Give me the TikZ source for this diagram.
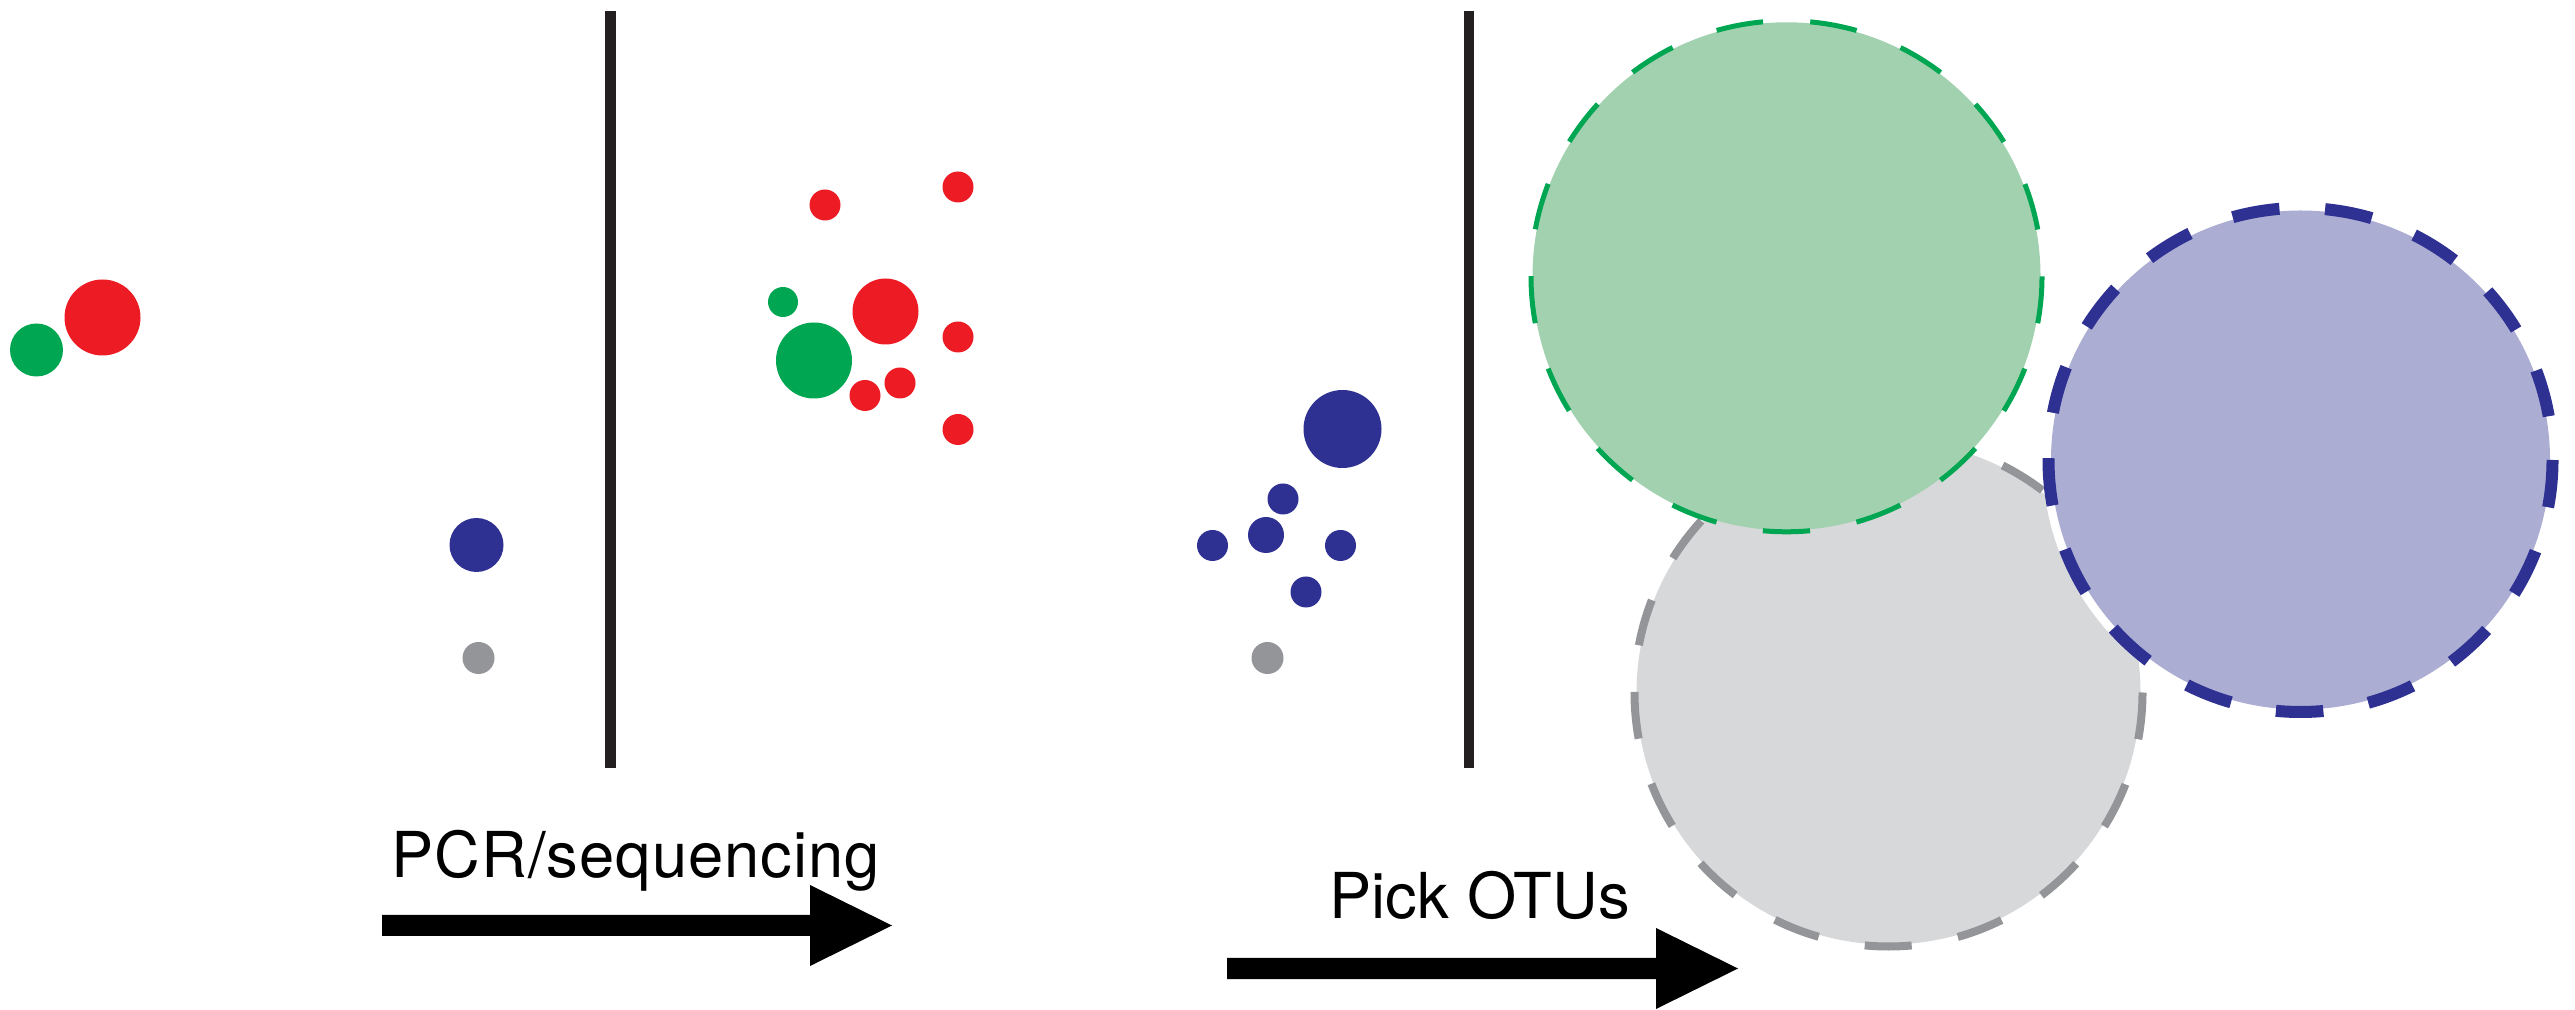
\documentclass[tikz,border=0pt]{standalone}
\usepackage{fontspec}
\setmainfont{TeX Gyre Heros}
\definecolor{cred}{HTML}{ED1C24}
\definecolor{cgreen}{HTML}{00A651}
\definecolor{cblue}{HTML}{2E3192}
\definecolor{cgrey}{HTML}{939598}
\definecolor{cline}{HTML}{231F20}
\definecolor{fgreen}{HTML}{A1D1AF}
\definecolor{fgrey}{HTML}{D7D8DA}
\definecolor{fblue}{HTML}{ABADD3}
\begin{document}
\begin{tikzpicture}[x=0.01cm,y=-0.01cm,
  divider/.style={draw=cline,line width=0.105cm},
  lbl/.style={anchor=base west,inner sep=0pt,font=\fontsize{18pt}{21pt}\selectfont},
  blockarrow/.style={fill=black}]
\useasboundingbox (0,0) rectangle (2575,1010);
% dividers
\coordinate (d1t) at (610.5,11); \coordinate (d1b) at (610.5,768);
\coordinate (d2t) at (1469,11); \coordinate (d2b) at (1469,768);
\draw[divider] (d1t) -- (d1b);
\draw[divider] (d2t) -- (d2b);
% panel 1
\fill[cgreen] (36.5,350) circle[radius=26.5];
\fill[cred] (102.5,317.5) circle[radius=38];
\fill[cblue] (476.5,545) circle[radius=27];
\fill[cgrey] (478.5,658) circle[radius=16];
% panel 2
\fill[cred] (825,205) circle[radius=15.5];
\fill[cred] (958,187) circle[radius=15.5];
\fill[cgreen] (783,302) circle[radius=15];
\fill[cred] (885.5,311.5) circle[radius=33];
\fill[cgreen] (814,360.5) circle[radius=38];
\fill[cred] (958,337) circle[radius=15.5];
\fill[cred] (900,383) circle[radius=15.5];
\fill[cred] (865,395.5) circle[radius=15.5];
\fill[cred] (958,429.5) circle[radius=15.5];
\fill[cblue] (1342.5,429) circle[radius=39];
\fill[cblue] (1283,499) circle[radius=15.5];
\fill[cblue] (1266,535) circle[radius=18];
\fill[cblue] (1212.5,545.5) circle[radius=15.5];
\fill[cblue] (1340.5,545.5) circle[radius=15.5];
\fill[cblue] (1306,592) circle[radius=15.5];
\fill[cgrey] (1267.5,658) circle[radius=16];
% OTU circles
\fill[fgrey] (1888.5,692.5) circle[radius=252];
\draw[cgrey,line width=0.08cm,dash pattern=on 0.47cm off 0.469cm] (1888.5,692.5) circle[radius=254];
\fill[fgreen] (1786.5,276.3) circle[radius=254];
\draw[cgreen,line width=0.05cm,dash pattern=on 0.472cm off 0.472cm] (1786.5,276.3) circle[radius=255.5];
\draw[white,line width=0.12cm] (2300.5,460) circle[radius=252];
\fill[fblue] (2300.5,460) circle[radius=249.5];
\draw[cblue,line width=0.12cm,dash pattern=on 0.475cm off 0.457cm] (2300.5,460) circle[radius=252];
% arrows
\fill[blockarrow] (382,915) -- (810,915) -- (810,885) -- (892,925.5) -- (810,966) -- (810,936) -- (382,936) -- cycle;
\fill[blockarrow] (1227,958) -- (1656,958) -- (1656,928) -- (1738,968.5) -- (1656,1009) -- (1656,979) -- (1227,979) -- cycle;
% labels
\node[lbl] (pcr) at (391,877) {\addfontfeatures{LetterSpace=1.6}PCR/sequencing};
\node[lbl] (pick) at (1329,918.5) {Pick OTUs};
\end{tikzpicture}
\end{document}
